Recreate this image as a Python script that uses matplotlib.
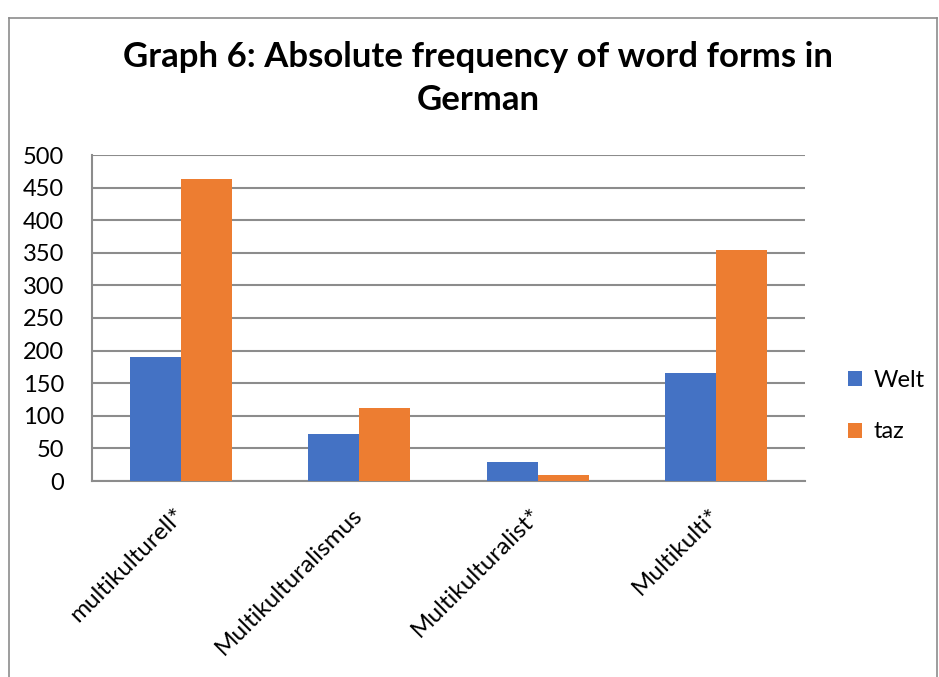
import matplotlib.pyplot as plt
import numpy as np
from matplotlib.lines import Line2D

plt.rcParams['font.family'] = ['Lato', 'DejaVu Sans']

kategorie = ['multikulturell*', 'Multikulturalismus', 'Multikulturalist*', 'Multikulti*']
welt = [190, 72, 29, 165]
taz = [463, 112, 9, 354]
serie = ['Welt', 'taz']

x = np.arange(len(kategorie))
width = 0.286

fig = plt.figure(figsize=(9.39, 6.77), dpi=100)
ax = fig.add_axes([92/939, 1 - 481/677, (805 - 92)/939, (481 - 155)/677])

ax.bar(x - width/2, welt, width, label=serie[0], color='#4472c4', zorder=3)
ax.bar(x + width/2, taz, width, label=serie[1], color='#ed7d31', zorder=3)

ax.set_xlim(-0.5, len(kategorie) - 0.5)
ax.set_ylim(0, 500)
ax.set_yticks(np.arange(0, 501, 50))
ax.yaxis.grid(True, color='#8c8c8c', linewidth=1.5, zorder=0)
ax.set_axisbelow(True)
for s in ['top', 'right']:
    ax.spines[s].set_visible(False)
for s in ['left', 'bottom']:
    ax.spines[s].set_color('#8c8c8c')
    ax.spines[s].set_linewidth(1.5)
ax.tick_params(axis='both', length=0, labelsize=17, colors='black')
ax.tick_params(axis='y', pad=20)
ax.set_xticks(x)
ax.set_xticklabels(kategorie, rotation=45, ha='right', va='center', rotation_mode='anchor', fontsize=17.5)
ax.tick_params(axis='x', pad=22)

fig.text(478/939, 1 - 57/677, 'Graph 6: Absolute frequency of word forms in',
         ha='center', va='center', fontsize=25, fontweight='bold')
fig.text(478/939, 1 - 100/677, 'German', ha='center', va='center', fontsize=25, fontweight='bold')

ax.legend(loc='center left', bbox_to_anchor=(1.03, 0.23), frameon=False, fontsize=17,
          handlelength=0.6, handleheight=0.6, handletextpad=0.5, labelspacing=1.3)

# ramka wykresu
for xs, ys in [([9/939, 9/939], [0, 1 - 18/677]), ([9/939, 937/939], [1 - 18/677, 1 - 18/677]),
               ([937/939, 937/939], [1 - 18/677, 0])]:
    fig.add_artist(Line2D(xs, ys, transform=fig.transFigure, color='#8c8c8c', linewidth=1.2))

fig.savefig('out.png', dpi=100)
